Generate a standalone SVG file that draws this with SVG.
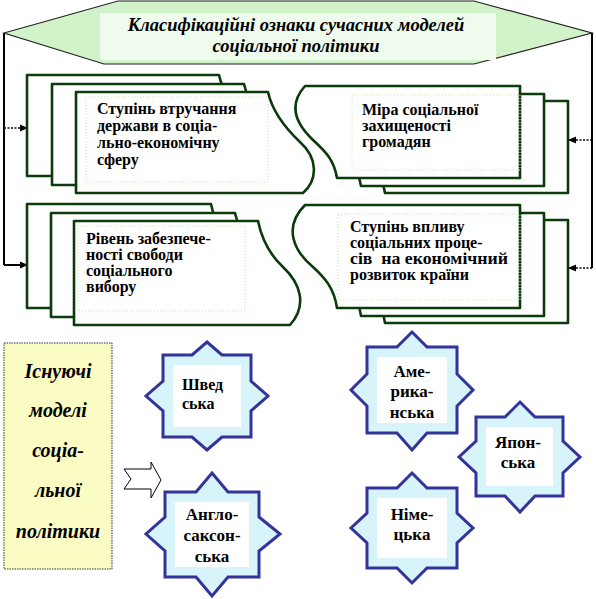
<svg xmlns="http://www.w3.org/2000/svg" xmlns:xlink="http://www.w3.org/1999/xlink" width="596" height="599" viewBox="0 0 596 599">
<style>
.bx{fill:#ffffff;stroke:#0b3b0b;stroke-width:2.6;stroke-linejoin:round}
.frm{fill:none;stroke:#b6ecae;stroke-width:1;stroke-dasharray:1 2}
.t{font-family:'Liberation Serif',serif;font-weight:bold;font-size:16px;fill:#000}
.ti{font-family:'Liberation Serif',serif;font-weight:bold;font-style:italic;fill:#000;text-anchor:middle}
.st{fill:#d6f4fa;stroke:#333399;stroke-width:3;stroke-linejoin:miter}
.stin{fill:#ffffff}
.sl{font-family:'Liberation Serif',serif;font-weight:bold;font-size:17px;fill:#000;text-anchor:middle}
.ln{fill:none;stroke:#000;stroke-width:2}
.dl{fill:none;stroke:#000;stroke-width:1.5;stroke-dasharray:2 1.5}
</style>
<defs>
<marker id="ah" markerWidth="8" markerHeight="8" refX="7" refY="4" orient="auto" markerUnits="userSpaceOnUse">
<path d="M0,0.5 L8,4 L0,7.5 Z" fill="#000"/>
</marker>
<path id="tlf" d="M76,92 L268,92 C272,110 282,125 300,142 C318,158 318,180 303,193 L76,193 Z"/>
<path id="trf" d="M305,86 L520,86 L520,178 L337,178 C334,160 326,152 313,140 C296,124 288,105 305,86 Z"/>
<path id="blf" d="M74,221 L258,221 C262,240 270,255 283,267 C300,283 308,305 290,325 L74,325 Z"/>
<path id="brf" d="M305,205 L520,205 L520,308 L337,308 C334,288 325,278 313,267 C295,252 282,228 305,205 Z"/>
</defs>

<g id="connectors">
<polyline class="ln" points="4,33 4,265"/>
<line class="dl" x1="4" y1="128" x2="27" y2="128" marker-end="url(#ah)"/>
<line class="ln" x1="4" y1="265" x2="27" y2="265" marker-end="url(#ah)"/>
<polyline class="ln" points="592,33 592,268"/>
<line class="dl" x1="592" y1="140" x2="569" y2="140" marker-end="url(#ah)"/>
<line class="dl" x1="592" y1="268" x2="569" y2="268" marker-end="url(#ah)"/>
<path d="M124,469 L151,469 L151,462 L161,480 L151,498 L151,489 L124,489 L131,479 Z" fill="#fff" stroke="#000" stroke-width="1"/>
</g>

<g id="title">
<path d="M4,33 L118,1 L474,1 L592,33 L474,64 L104,64 Z" fill="#d2f3ca" stroke="#222" stroke-width="1.2"/>
<rect x="100" y="13" width="396" height="47" fill="#effbec"/>
<text class="ti" font-size="18.5" x="296" y="31">Класифікаційні ознаки сучасних моделей</text>
<text class="ti" font-size="18.5" x="296" y="52">соціальної політики</text>
</g>

<g id="node-vtruchannia">
<use href="#tlf" class="bx" transform="translate(-49,-17)"/>
<use href="#tlf" class="bx" transform="translate(-24,-8)"/>
<use href="#tlf" class="bx"/>
<rect class="frm" x="86" y="97" width="182" height="85"/>
<text class="t" x="97" y="114">Ступінь втручання</text>
<text class="t" x="97" y="131">держави в соціа-</text>
<text class="t" x="97" y="148">льно-економічну</text>
<text class="t" x="97" y="165">сферу</text>
</g>

<g id="node-zakhyshchenist">
<use href="#trf" class="bx" transform="translate(48,15)"/>
<use href="#trf" class="bx" transform="translate(24,8)"/>
<use href="#trf" class="bx"/>
<rect class="frm" x="352" y="95" width="168" height="75"/>
<text class="t" x="362" y="115">Міра соціальної</text>
<text class="t" x="362" y="131">захищеності</text>
<text class="t" x="362" y="147">громадян</text>
</g>

<g id="node-svoboda">
<use href="#blf" class="bx" transform="translate(-47,-17)"/>
<use href="#blf" class="bx" transform="translate(-23,-8)"/>
<use href="#blf" class="bx"/>
<rect class="frm" x="78" y="226" width="167" height="85"/>
<text class="t" x="86" y="244">Рівень забезпече-</text>
<text class="t" x="86" y="260">ності свободи</text>
<text class="t" x="86" y="276">соціального</text>
<text class="t" x="86" y="292">вибору</text>
</g>

<g id="node-vplyv">
<use href="#brf" class="bx" transform="translate(48,15)"/>
<use href="#brf" class="bx" transform="translate(24,8)"/>
<use href="#brf" class="bx"/>
<rect class="frm" x="338" y="214" width="182" height="86"/>
<text class="t" x="350" y="232">Ступінь впливу</text>
<text class="t" x="350" y="248">соціальних проце-</text>
<text class="t" x="350" y="264" xml:space="preserve" textLength="158" lengthAdjust="spacingAndGlyphs">сів  на економічний</text>
<text class="t" x="350" y="280">розвиток країни</text>
</g>

<g id="node-isnuiuchi">
<rect x="4" y="343" width="108" height="226" fill="#fbfbc4" stroke="#333" stroke-width="1" stroke-dasharray="1.5 1"/>
<text class="ti" font-size="20" x="58" y="378">Існуючі</text>
<text class="ti" font-size="20" x="58" y="417">моделі</text>
<text class="ti" font-size="20" x="58" y="457">соціа-</text>
<text class="ti" font-size="20" x="58" y="497">льної</text>
<text class="ti" font-size="20" x="58" y="538">політики</text>
</g>

<g id="node-shvedska">
<polygon class="st" points="207,342 222,355 251,355 251,381 268,396 251,411 251,437 222,437 207,450 192,437 163,437 163,411 146,396 163,381 163,355 192,355"/>
<rect class="stin" x="173" y="365" width="68" height="62"/>
<text class="t" font-size="17" x="182" y="390">Швед</text>
<text class="t" font-size="17" x="182" y="409">ська</text>
</g>

<g id="node-anglo">
<polygon class="st" points="212,473 228,492 259,492 259,517 280,534 259,551 259,577 228,577 212,596 196,577 165,577 165,551 146,534 165,517 165,492 196,492"/>
<rect class="stin" x="175" y="502" width="74" height="65"/>
<text class="sl" x="212" y="520">Англо-</text>
<text class="sl" x="212" y="541">саксон-</text>
<text class="sl" x="212" y="562">ська</text>
</g>

<g id="node-amerykanska">
<polygon class="st" points="412,332 427,347 457,347 457,374 473,390 457,406 457,433 427,433 412,450 397,433 367,433 367,406 351,390 367,374 367,347 397,347"/>
<rect class="stin" x="377" y="357" width="70" height="66"/>
<text class="sl" x="412" y="377">Аме-</text>
<text class="sl" x="412" y="397">рика-</text>
<text class="sl" x="412" y="418">нська</text>
</g>

<g id="node-yaponska">
<polygon class="st" points="520,402 535,417 563,417 563,441 580,457 563,473 563,496 535,496 520,512 505,496 476,496 476,473 459,457 476,441 476,417 505,417"/>
<rect class="stin" x="486" y="427" width="67" height="59"/>
<text class="sl" x="518" y="448">Япон-</text>
<text class="sl" x="518" y="468">ська</text>
</g>

<g id="node-nimetska">
<polygon class="st" points="412,473 427,488 457,488 457,513 473,528 457,543 457,568 427,568 412,583 397,568 367,568 367,543 351,528 367,513 367,488 397,488"/>
<rect class="stin" x="377" y="498" width="70" height="60"/>
<text class="sl" x="412" y="520">Німе-</text>
<text class="sl" x="412" y="540">цька</text>
</g>
</svg>
